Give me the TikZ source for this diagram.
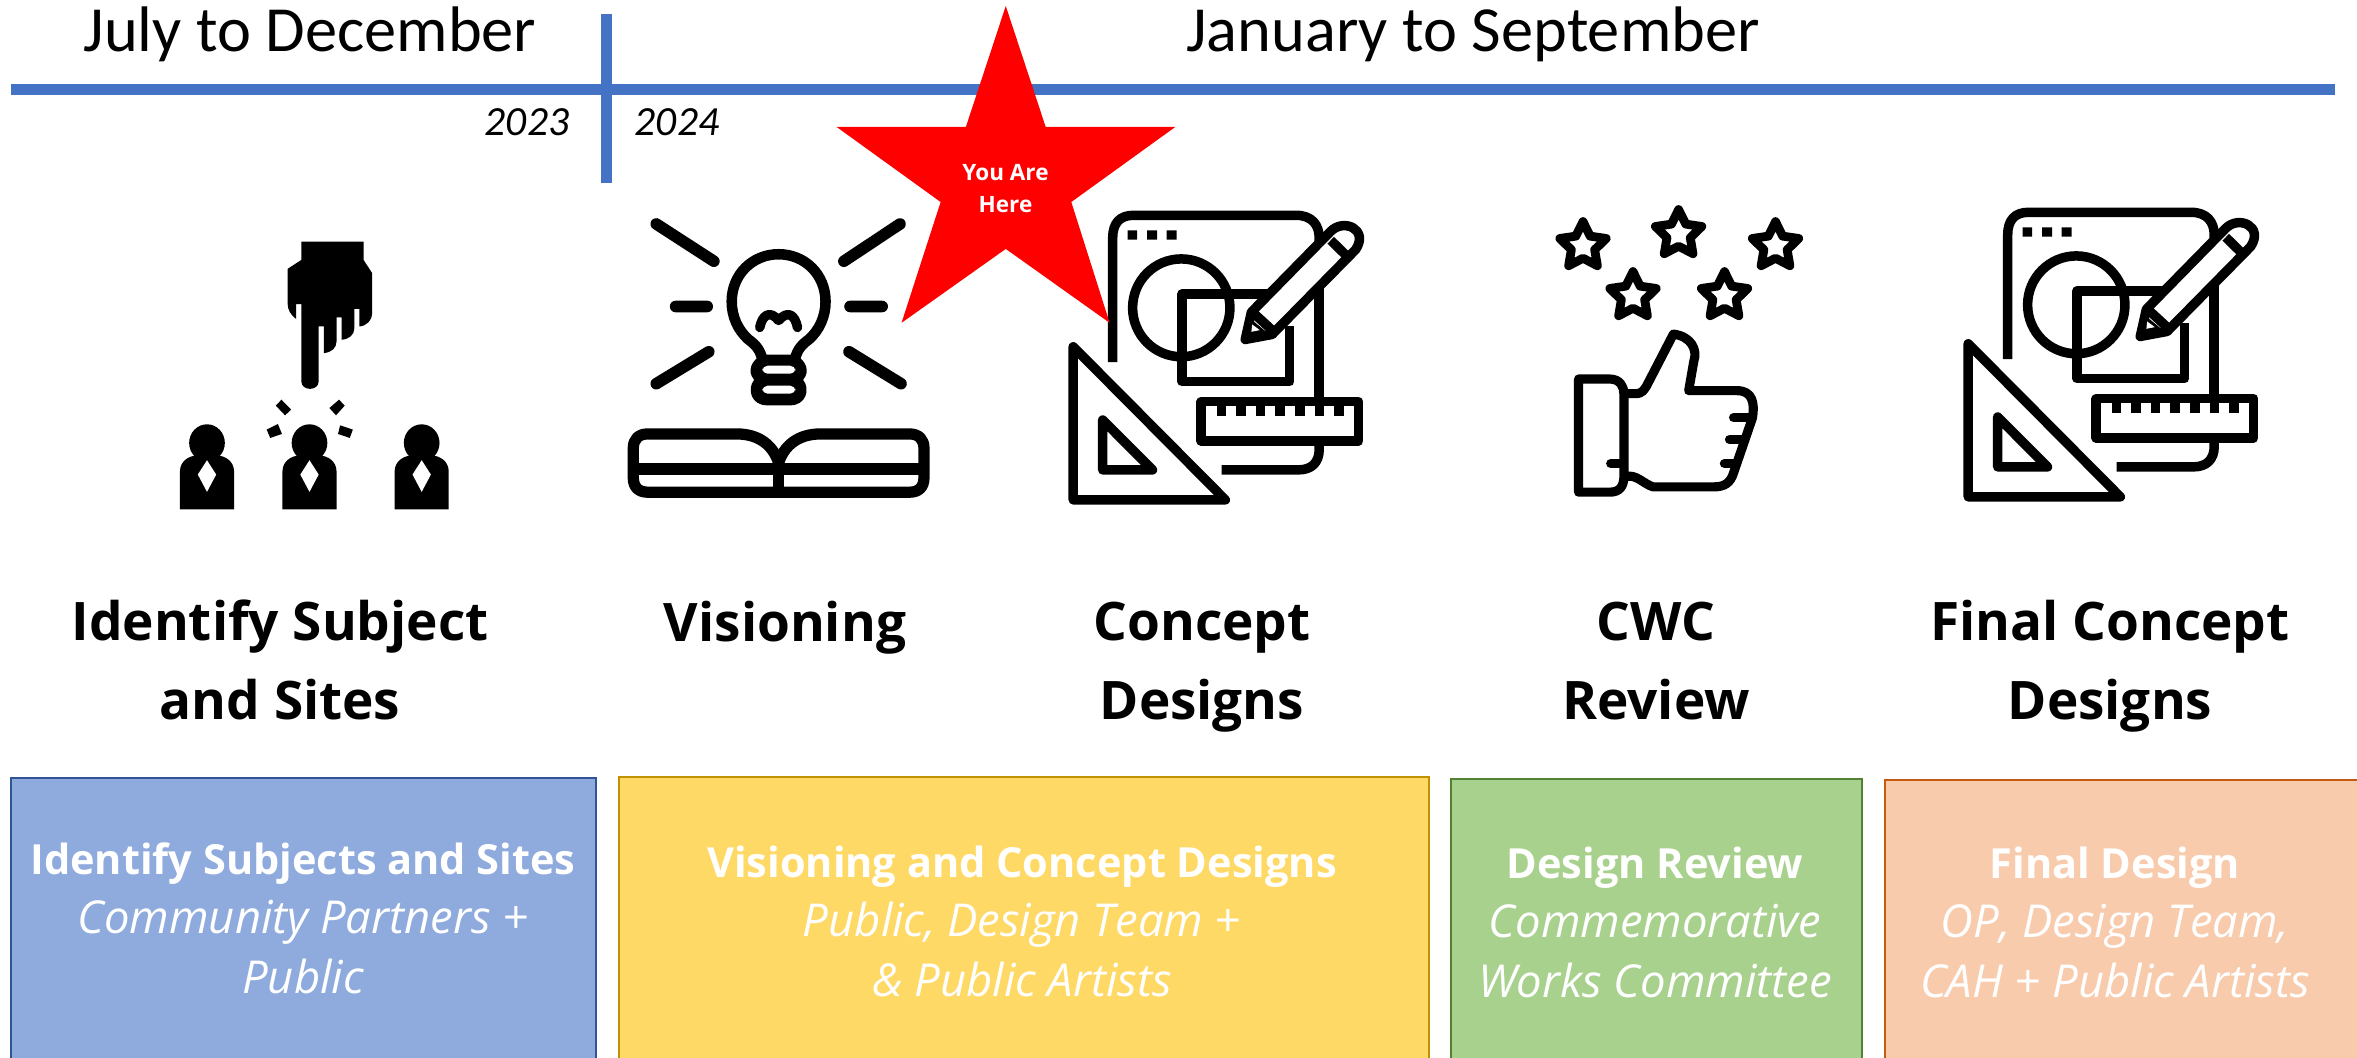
\documentclass[tikz,border=0pt]{standalone}
\usepackage{fontspec}
\setmainfont{Carlito}
\newfontfamily\osans{Open Sans}
\definecolor{tline}{HTML}{4472C4}
\definecolor{boxa}{HTML}{8FAADC}\definecolor{boxae}{HTML}{2F5597}
\definecolor{boxb}{HTML}{FFD966}\definecolor{boxbe}{HTML}{BF9000}
\definecolor{boxc}{HTML}{A9D18E}\definecolor{boxce}{HTML}{548235}
\definecolor{boxd}{HTML}{F8CBAD}\definecolor{boxde}{HTML}{C55A11}
\newcommand{\boxhead}[1]{{\bfseries\fontsize{11.8}{16.9}\selectfont #1}}
\tikzset{
  period/.style={anchor=base,inner sep=0pt,font=\fontsize{18.3}{21}\selectfont},
  yearlab/.style={anchor=base,inner sep=0pt,font=\fontsize{11.8}{14}\selectfont\itshape},
  heading/.style={anchor=base,inner sep=0pt,align=center,font=\osans\bfseries\fontsize{15.1}{22.2}\selectfont},
  boxtext/.style={anchor=base,inner sep=0pt,align=center,text=white,font=\osans\fontsize{12.9}{16.9}\selectfont},
  stage/.style={line width=0.8pt},
  ico/.style={draw=black,line width=2.7pt,line join=round},
  ray/.style={draw=black,line width=3.3pt,line cap=round},
  zooma/.style={shift={(130,200)},x=0.005102cm,y=-0.003333cm},
  zoomb/.style={shift={(1500,190)},x=0.005102cm,y=-0.003333cm},
  zoomc/.style={x=0.003827cm,y=-0.003333cm},
}
\newcommand{\designicon}[2]{%
\begin{scope}[shift={(#1,#2)},zoomc]
  \draw[ico,line cap=butt] (816,1088) -- (816,715) .. controls (816,670) and (835,647) .. (870,647) -- (1295,647) .. controls (1335,647) and (1355,675) .. (1355,715) -- (1355,728);
  \draw[ico,line cap=butt] (1355,860) -- (1355,1195);
  \draw[ico,line cap=butt] (1355,1335) -- (1355,1350) .. controls (1355,1390) and (1335,1412) .. (1300,1412) -- (1100,1412);
  \fill (855,692) rectangle (880,720) (906,692) rectangle (932,720) (957,692) rectangle (983,720);
  \draw[ico] (995,925) ellipse [x radius=127,y radius=147];
  \draw[ico] (1225,883) -- (997,883) -- (997,1147) -- (1278,1147) -- (1278,980);
  \draw[ico] (1162,1020) -- (1178,938) -- (1385,695) .. controls (1420,655) and (1485,690) .. (1450,750) -- (1232,1005) -- cycle;
  \draw[ico] (1180,937) -- (1230,990) (1385,722) -- (1425,767);
  \fill (1162,1020) -- (1178,960) -- (1225,1005) -- cycle;
  \fill[white] (1180,975) -- (1200,992) -- (1178,997) -- cycle;
  \draw[ico] (1047,1207) rectangle (1458,1325);
  \foreach \tk in {1087,1138,1189,1240,1292,1343,1394}
    \fill (\tk,1207) rectangle (\tk+25,1250);
  \draw[ico] (713,1042) -- (713,1502) -- (1110,1502) -- cycle;
  \draw[ico] (790,1262) -- (790,1412) -- (920,1412) -- cycle;
\end{scope}}
\newcommand{\outlinestar}[2]{%
\draw[shift={(#1,#2)},x=0.01cm,y=-0.01cm,scale=0.94,draw=black,line width=2.5pt,line join=round]
 (0,-26) -- (7.6,-10.5) -- (24.7,-8) -- (12.4,4) -- (15.3,21) -- (0,13) -- (-15.3,21) -- (-12.4,4) -- (-24.7,-8) -- (-7.6,-10.5) -- cycle;}
\begin{document}
\begin{tikzpicture}[x=0.01cm,y=-0.01cm]
\useasboundingbox (0,0) rectangle (2357,1058);
\fill[white] (0,0) rectangle (2357,1058);
\clip (0,0) rectangle (2357,1058);

% timeline
\fill[tline] (11,84) rectangle (2335,95);
\fill[tline] (601,14) rectangle (611.5,183);
\node[period] (julydec) at (310,52) {July to December};
\node[period] (jansep) at (1473,52) {January to September};
\node[yearlab] (ytwo) at (527,136) {2023};
\node[yearlab] (yfour) at (677,136) {2024};

% hand and people
\begin{scope}[zooma]
  \fill (336,125) -- (458,125) -- (458,180) -- (475,220) -- (475,340) .. controls (475,360) and (465,378) .. (450,380) -- (450,327) -- (440,327) -- (440,385) .. controls (440,405) and (430,418) .. (415,420) -- (415,353) -- (405,353) -- (405,425) .. controls (405,445) and (395,458) .. (380,460) -- (380,380) -- (370,380) -- (370,545) .. controls (370,575) and (336,575) .. (336,545) -- (336,313) -- (326,313) -- (326,358) .. controls (315,345) and (309,330) .. (309,310) -- (309,207) -- (336,180) -- cycle;
  \fill (297,600) -- (316,630) -- (304,647) -- (286,618) -- cycle;
  \fill (410,600) -- (421,618) -- (404,647) -- (391,625) -- cycle;
  \fill (290,673) -- (298,703) -- (275,715) -- (268,690) -- cycle;
  \fill (412,677) -- (437,690) -- (431,715) -- (408,703) -- cycle;
  \foreach \pp in {151,352,572}{
    \fill (\pp,730) ellipse [x radius=35,y radius=56];
    \fill (\pp-53,930) -- (\pp+53,930) -- (\pp+53,815) .. controls (\pp+53,785) and (\pp+35,768) .. (\pp+20,768) -- (\pp-20,768) .. controls (\pp-35,768) and (\pp-53,785) .. (\pp-53,815) -- cycle;
    \fill[white] (\pp,782) -- (\pp+18,825) -- (\pp,877) -- (\pp-18,825) -- cycle;
  }
  % light bulb and book
  \draw[ray] (1032,72) -- (1145,184) (1510,72) -- (1400,184) (1070,320) -- (1132,320) (1412,320) -- (1475,320) (1032,552) -- (1135,456) (1512,552) -- (1410,456);
  \draw[ico,line width=3pt] (1240,480) .. controls (1236,445) and (1222,430) .. (1212,418) .. controls (1192,390) and (1180,350) .. (1180,305) .. controls (1180,225) and (1220,163) .. (1272,163) .. controls (1324,163) and (1364,225) .. (1364,305) .. controls (1364,350) and (1352,390) .. (1332,418) .. controls (1322,430) and (1308,445) .. (1304,480);
  \draw[ico,line width=2.7pt,line cap=round] (1235,383) .. controls (1240,345) and (1255,330) .. (1272,362) .. controls (1290,330) and (1304,345) .. (1309,383);
  \fill (1240,465) -- (1304,465) .. controls (1325,480) and (1335,515) .. (1320,540) .. controls (1335,570) and (1325,617) .. (1295,617) -- (1249,617) .. controls (1219,617) and (1209,570) .. (1224,540) .. controls (1209,515) and (1219,480) .. (1240,465) -- cycle;
  \fill[white,rounded corners=1.5pt] (1240,498) rectangle (1305,522) (1240,558) rectangle (1305,582);
  \draw[ico,line width=3.2pt] (1272,790) .. controls (1262,740) and (1235,703) .. (1190,703) -- (1015,703) .. controls (997,703) and (987,720) .. (987,745) -- (987,835) .. controls (987,862) and (997,878) .. (1015,878) -- (1529,878) .. controls (1547,878) and (1557,862) .. (1557,835) -- (1557,745) .. controls (1557,720) and (1547,703) .. (1529,703) -- (1354,703) .. controls (1309,703) and (1282,740) .. (1272,790);
  \draw[ico,line width=3.2pt] (987,808) -- (1557,808) (1272,790) -- (1272,885);
\end{scope}

% design icons
\designicon{800}{0}
\designicon{1695}{-3}

% stars and thumb
\outlinestar{1583}{246}
\outlinestar{1678.6}{234}
\outlinestar{1775.5}{246}
\outlinestar{1633}{296}
\outlinestar{1724.5}{296}
\begin{scope}[zoomb]
  \draw[ico,line width=2.6pt] (154,568) -- (215,568) .. controls (235,568) and (243,590) .. (243,612) -- (243,860) .. controls (243,890) and (235,908) .. (215,908) -- (154,908) -- cycle;
  \draw[ico,line width=2.6pt] (243,612) -- (265,612) .. controls (280,612) and (282,600) .. (287,590) -- (340,433) .. controls (375,440) and (388,480) .. (380,515) -- (370,603) -- (465,603) .. controls (495,603) and (500,640) .. (495,685) -- (458,850) .. controls (452,880) and (440,892) .. (420,892) -- (300,892) .. controls (285,885) and (270,860) .. (255,860) -- (243,860);
  \draw[ico,line width=2.6pt,line cap=round] (458,684) -- (488,684) (450,750) -- (478,750) (440,822) -- (462,822) (217,822) -- (240,822);
\end{scope}

% headings
\node[heading] (identify) at (280,719) {Identify Subject\\and Sites};
\node[heading] (vision) at (785,641) {Visioning};
\node[heading] (concept) at (1202,719) {Concept\\Designs};
\node[heading] (cwc) at (1656,719) {CWC\\Review};
\node[heading] (final) at (2110,719) {Final Concept\\Designs};

% stage boxes
\draw[stage,draw=boxae,fill=boxa] (11,778) rectangle (596,1070);
\draw[stage,draw=boxbe,fill=boxb] (619,777) rectangle (1429,1070);
\draw[stage,draw=boxce,fill=boxc] (1451,779) rectangle (1862,1070);
\draw[stage,draw=boxde,fill=boxd] (1885,780) rectangle (2370,1070);
\node[boxtext] (ta) at (303,993) {\boxhead{Identify Subjects and Sites}\\{\itshape Community Partners +}\\{\itshape Public}};
\node[boxtext] (tb) at (1022,996) {\boxhead{Visioning and Concept Designs}\\{\itshape Public, Design Team +}\\{\itshape \& Public Artists}};
\node[boxtext] (tc) at (1655,997) {\boxhead{Design Review}\\{\itshape Commemorative}\\{\itshape Works Committee}};
\node[boxtext] (td) at (2115,997) {\boxhead{Final Design}\\{\itshape OP, Design Team,}\\{\itshape CAH + Public Artists}};

% you are here star
\begin{scope}[shift={(800,0)},zoomc]
  \fill[red] (537,18) -- (641,381) -- (980,381) -- (708,607) -- (808,970) -- (537,748) -- (265,970) -- (367,607) -- (95,381) -- (433,381) -- cycle;
\end{scope}
\node[anchor=base,inner sep=0pt,align=center,text=white,font=\osans\bfseries\fontsize{6.4}{9.1}\selectfont] (here) at (1005.5,213) {You Are\\Here};
\end{tikzpicture}
\end{document}
